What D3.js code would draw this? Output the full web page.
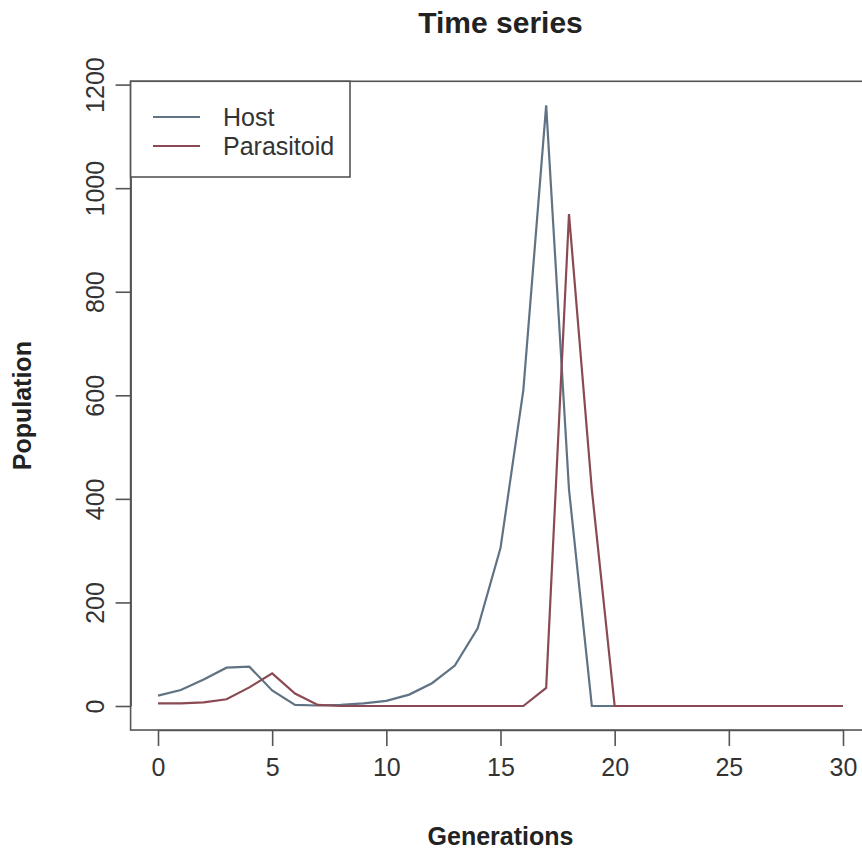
<!doctype html>
<html lang="en">
<head>
  <meta charset="utf-8">
  <title>time series</title>
  <style>
    * { margin: 0; padding: 0; box-sizing: border-box; }
    body { background: #fff; }
    svg { display: block; font-family: "Liberation Sans", Arial, sans-serif; }
  </style>
</head>
<body>
  <div class="chart"></div>
  <script src="https://cdn.jsdelivr.net/npm/d3@7"></script>
  <script>
    // ---------------------------------------------------------------
    //@@ data
    const generations = d3.range(0, 31);
    const host = [20, 31, 51, 74, 76, 30, 2, 1, 2, 5, 10, 22, 44, 78, 150, 305, 610, 1160, 418, 0,
                  0, 0, 0, 0, 0, 0, 0, 0, 0, 0, 0];
    const parasitoid = [5, 5, 7, 13, 36, 63, 24, 2, 0, 0, 0, 0, 0, 0, 0, 0, 0, 35, 950, 418, 0,
                        0, 0, 0, 0, 0, 0, 0, 0, 0, 0];
    const xTicks = [0, 5, 10, 15, 20, 25, 30];
    const yTicks = [0, 200, 400, 600, 800, 1000, 1200];
    const seriesNames = ['Host', 'Parasitoid'];
    const seriesColors = ['#5f7384', '#8a4a53'];

    // ---------------------------------------------------------------
    //@@ svg configuration
    const svgDim = {w: 862, h: 851};
    const svg = d3.select('.chart').append('svg')
      .attr('width', svgDim.w)
      .attr('height', svgDim.h);

    //@@ scales (R style: limits padded by 4%)
    const xScale = d3.scaleLinear().domain([0, 30]).range([158, 843]);
    const yMax = d3.max(host.concat(parasitoid));
    const yPad = yMax * 0.04;
    const yScale = d3.scaleLinear().domain([0, 1200]).range([706, 84.6]);
    const box = {
      x0: xScale(-30 * 0.04), x1: xScale(30 * 1.04),
      y0: yScale(yMax + yPad), y1: yScale(-yPad)
    };

    const axisColor = '#555';
    const fontSize = 25;

    //@@ plot box
    svg.append('rect')
      .attr('x', box.x0).attr('y', box.y0)
      .attr('width', box.x1 - box.x0).attr('height', box.y1 - box.y0)
      .attr('fill', 'none')
      .attr('stroke', axisColor)
      .attr('stroke-width', 1.6);

    //@@ axis x
    const axisX = d3.axisBottom(xScale).tickValues(xTicks).tickFormat(d3.format('d'))
      .tickSize(16).tickSizeOuter(0).tickPadding(12);
    const gx = svg.append('g').attr('transform', `translate(0,${box.y1})`).call(axisX);
    gx.select('.domain').attr('stroke', axisColor).attr('stroke-width', 1.6);
    gx.selectAll('.tick line').attr('stroke', axisColor).attr('stroke-width', 1.6);
    gx.selectAll('.tick text')
      .attr('font-size', fontSize).attr('font-family', null).attr('fill', '#333');

    //@@ axis y (labels rotated, like R's las=0)
    const axisY = d3.axisLeft(yScale).tickValues(yTicks).tickFormat(d3.format('d'))
      .tickSize(15).tickSizeOuter(0);
    const gy = svg.append('g').attr('transform', `translate(${box.x0},0)`).call(axisY);
    gy.select('.domain').attr('stroke', axisColor).attr('stroke-width', 1.6);
    gy.selectAll('.tick line').attr('stroke', axisColor).attr('stroke-width', 1.6);
    gy.selectAll('.tick text')
      .attr('font-size', fontSize).attr('font-family', null).attr('fill', '#333')
      .attr('x', null).attr('dy', null)
      .attr('text-anchor', 'middle')
      .attr('transform', 'translate(-27,0) rotate(-90)');

    //@@ lines
    const line = d3.line().x((d, i) => xScale(generations[i])).y(d => yScale(d));
    [host, parasitoid].forEach((s, k) => {
      svg.append('path')
        .datum(s)
        .attr('d', line)
        .attr('fill', 'none')
        .attr('stroke', seriesColors[k])
        .attr('stroke-width', 2.2)
        .attr('stroke-linejoin', 'miter');
    });

    //@@ titles
    svg.append('text')
      .attr('x', (box.x0 + box.x1) / 2).attr('y', 33)
      .attr('text-anchor', 'middle')
      .attr('font-size', 30).attr('font-weight', 'bold').attr('fill', '#222')
      .text('Time series');

    svg.append('text')
      .attr('x', (box.x0 + box.x1) / 2).attr('y', 845)
      .attr('text-anchor', 'middle')
      .attr('font-size', fontSize).attr('font-weight', 'bold').attr('fill', '#222')
      .text('Generations');

    svg.append('text')
      .attr('transform', `translate(31,${(box.y0 + box.y1) / 2}) rotate(-90)`)
      .attr('text-anchor', 'middle')
      .attr('font-size', fontSize).attr('font-weight', 'bold').attr('fill', '#222')
      .text('Population');

    //@@ legend
    const legend = svg.append('g');
    legend.append('rect')
      .attr('x', box.x0).attr('y', box.y0)
      .attr('width', 350 - box.x0).attr('height', 177 - box.y0)
      .attr('fill', '#fff')
      .attr('stroke', axisColor)
      .attr('stroke-width', 1.6);
    seriesNames.forEach((name, k) => {
      const y = 117 + k * 29;
      legend.append('line')
        .attr('x1', 153).attr('x2', 200).attr('y1', y).attr('y2', y)
        .attr('stroke', seriesColors[k]).attr('stroke-width', 2.2);
      legend.append('text')
        .attr('x', 223).attr('y', y + 9)
        .attr('font-size', fontSize).attr('fill', '#333')
        .text(name);
    });
  </script>
</body>
</html>
